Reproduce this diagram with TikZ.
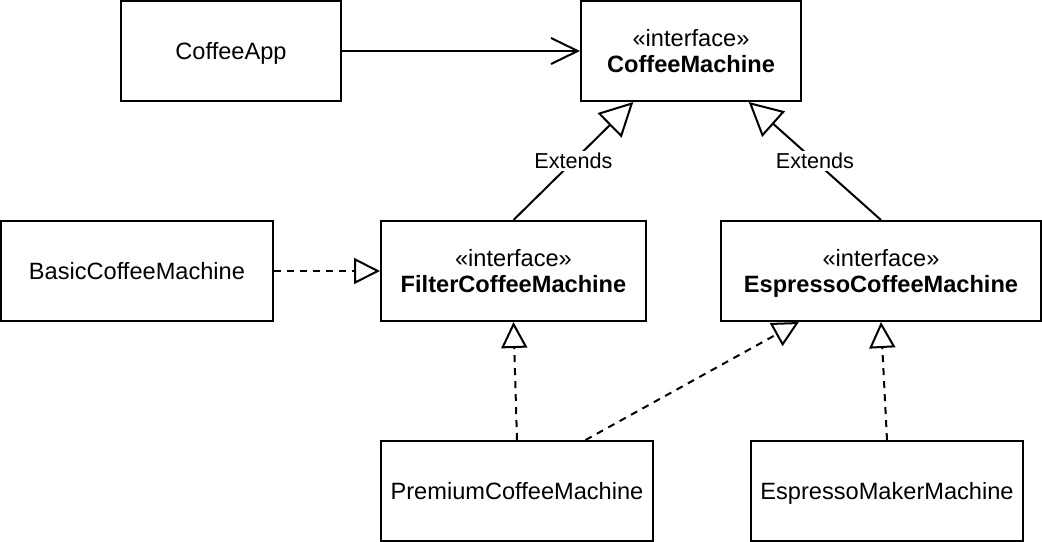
\documentclass[tikz,border=0pt]{standalone}
\usepackage{fontspec}
\setmainfont{Liberation Sans}
\usetikzlibrary{arrows.meta,calc}
\tikzset{
  px/.style={x=0.75pt,y=-0.75pt},
  basebox/.style={draw=black,fill=white,line width=1.5pt,minimum height=75pt,inner sep=0pt,align=center,
    font=\fontsize{17.7}{19.5}\selectfont},
  umlbox/.style={basebox,text height=12.7pt,text depth=0pt},
  ifacebox/.style={basebox,text depth=0pt},
  conn/.style={line width=1.5pt,line join=miter},
  dashedconn/.style={conn,dash pattern=on 5.25pt off 4.5pt},
  realtip/.style={-{Triangle[open,length=19.5pt,width=19.5pt,line width=1.5pt]}},
  exttip/.style={-{Triangle[open,length=25pt,width=25.5pt,line width=1.5pt]}},
  opentip/.style={-{Straight Barb[length=20pt,width=19.5pt,line width=1.5pt]}},
  extlabel/.style={fill=white,inner sep=1.5pt,font=\fontsize{16.2}{19}\selectfont},
}
\begin{document}
\begin{tikzpicture}[px]
\useasboundingbox (0,0) rectangle (1042,542);
% nodes
\node[umlbox,minimum width=165pt] (app) at (231,51) {CoffeeApp};
\node[ifacebox,minimum width=165pt] (cm) at (691,51) {«interface»\\\textbf{CoffeeMachine}};
\node[umlbox,minimum width=204pt] (basic) at (137,271) {BasicCoffeeMachine};
\node[ifacebox,minimum width=198.75pt] (filter) at (513.5,271) {«interface»\\\textbf{FilterCoffeeMachine}};
\node[ifacebox,minimum width=240pt] (esp) at (881,271) {«interface»\\\textbf{EspressoCoffeeMachine}};
\node[umlbox,minimum width=204pt] (prem) at (517,491) {PremiumCoffeeMachine};
\node[umlbox,minimum width=204pt] (maker) at (887,491) {EspressoMakerMachine};
% connectors
\draw[conn,opentip] (app.east) -- (cm.west);
\draw[conn,exttip] (filter.north) -- node[extlabel]{Extends} ($(cm.south west)!0.24!(cm.south east)$);
\draw[conn,exttip] (esp.north) -- node[extlabel]{Extends} ($(cm.south west)!0.76!(cm.south east)$);
\draw[dashedconn,realtip] (basic.east) -- (filter.west);
\draw[dashedconn,realtip] (prem.north) -- (filter.south);
\draw[dashedconn,realtip] ($(prem.north west)!0.75!(prem.north east)$) -- ($(esp.south west)!0.245!(esp.south east)$);
\draw[dashedconn,realtip] (maker.north) -- (esp.south);
\end{tikzpicture}
\end{document}
